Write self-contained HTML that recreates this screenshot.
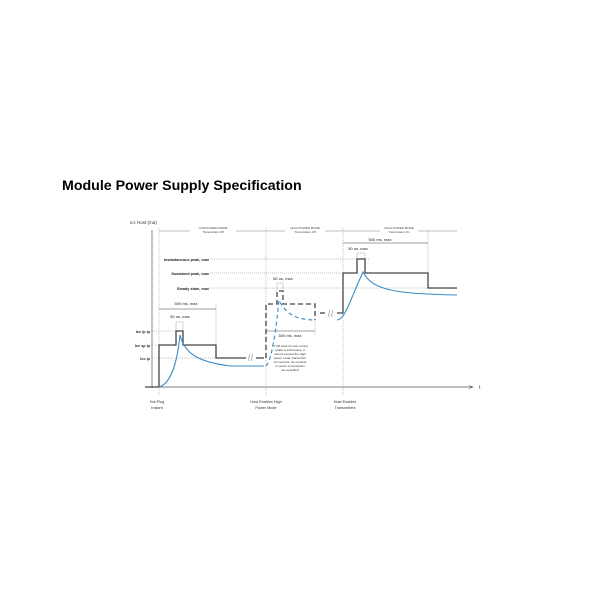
<!DOCTYPE html>
<html><head><meta charset="utf-8"><style>
html,body{margin:0;padding:0;background:#fff;}
svg{display:block;}
text{font-family:"Liberation Sans",sans-serif;}
</style></head><body>
<svg width="600" height="600" viewBox="0 0 600 600" xmlns="http://www.w3.org/2000/svg">
<rect width="600" height="600" fill="#fff"/>
<text x="62" y="190" font-size="14.2" font-weight="bold" fill="#000">Module Power Supply Specification</text>

<text x="130" y="224" font-size="4.5" fill="#333">Icc Host (ma)</text>
<line x1="152" y1="230" x2="152" y2="388" stroke="#555" stroke-width="0.7"/>
<line x1="145" y1="387" x2="472" y2="387" stroke="#555" stroke-width="0.7"/>
<path d="M469,385.5 L473,387 L469,388.5" fill="none" stroke="#555" stroke-width="0.6"/>
<text x="479" y="389" font-size="5" fill="#333">t</text>

<g stroke="#888" stroke-width="0.5" stroke-dasharray="1,1">
<line x1="159" y1="228" x2="159" y2="395"/>
<line x1="266" y1="228" x2="266" y2="395"/>
<line x1="343" y1="228" x2="343" y2="395"/>
<line x1="216" y1="305" x2="216" y2="358"/>
<line x1="315" y1="320" x2="315" y2="335"/>
<line x1="428" y1="231" x2="428" y2="288"/>
<line x1="152" y1="331" x2="176" y2="331"/>
<line x1="152" y1="345" x2="159" y2="345"/>
<line x1="152" y1="358" x2="216" y2="358"/>
<line x1="210" y1="259" x2="370" y2="259"/>
<line x1="210" y1="273" x2="343" y2="273"/>
<line x1="210" y1="288" x2="457" y2="288"/>
</g>

<g stroke="#666" stroke-width="0.4">
<line x1="159" y1="231" x2="190" y2="231"/><line x1="236" y1="231" x2="266" y2="231"/>
<line x1="266" y1="231" x2="285" y2="231"/><line x1="325" y1="231" x2="343" y2="231"/>
<line x1="343" y1="231" x2="380" y2="231"/><line x1="418" y1="231" x2="457" y2="231"/>
</g>
<g font-size="3" fill="#444" text-anchor="middle">
<text x="213" y="229">LOW POWER MODE</text><text x="213" y="233">Transmitters Off</text>
<text x="305" y="229">HIGH POWER MODE</text><text x="305" y="233">Transmitters Off</text>
<text x="399" y="229">HIGH POWER MODE</text><text x="399" y="233">Transmitters On</text>
</g>

<g stroke="#444" stroke-width="0.5">
<line x1="159" y1="309" x2="216" y2="309"/>
<line x1="266" y1="331" x2="315" y2="331"/>
<line x1="343" y1="243" x2="428" y2="243"/>
</g>
<g stroke="#444" stroke-width="0.4" stroke-dasharray="1,0.8" fill="none">
<path d="M176,331 V322 H183 V331"/>
<path d="M277,291 V283 H283 V291"/>
<path d="M357,259 V253 H365 V259"/>
</g>
<g font-size="4" fill="#222" text-anchor="middle">
<text x="186" y="305">500 ms, max</text>
<text x="180" y="318">50 us, max</text>
<text x="290" y="337">500 ms, max</text>
<text x="283" y="280">50 us, max</text>
<text x="380" y="241">500 ms, max</text>
<text x="358" y="250">50 us, max</text>
</g>
<g font-size="3.8" font-weight="bold" fill="#222" text-anchor="end">
<text x="150" y="333">Icc lp lp</text>
<text x="150" y="347">Icc sp lp</text>
<text x="150" y="360">Icc lp</text>
<text x="209" y="261">Instantaneous peak, max</text>
<text x="209" y="275">Sustained peak, max</text>
<text x="209" y="290">Steady state, max</text>
</g>

<g fill="none" stroke="#444" stroke-width="1.3">
<path d="M145,387 H159 V345 H176 V331 H183 V345 H216 V358 H246"/>
<path d="M256,358 H264"/>
<path d="M337,313 H343 V273 H357 V259 H365 V273 H428 V288 H457"/>
</g>
<g fill="none" stroke="#444" stroke-width="1.3" stroke-dasharray="5,3">
<path d="M266,358 V304 H277 V291 H283 V304 H315 V320"/>
<path d="M320,313 H326"/>
</g>
<g fill="none" stroke="#666" stroke-width="0.5">
<path d="M249,361 q-1,-3 1,-7"/><path d="M252,361 q-1,-3 1,-7"/>
<path d="M329,317 q-1,-3 1,-7"/><path d="M332,317 q-1,-3 1,-7"/>
</g>

<g fill="none" stroke="#3a8cc4" stroke-width="1.1">
<path d="M159,387 C170,384 177,365 180,335 C185,355 200,362 230,366 H264"/>
<path d="M337,320 C345,320 350,300 363,272 C372,290 395,294 457,295"/>
</g>
<path d="M266,366 C272,360 276,330 279,300 C286,315 298,320 315,320" fill="none" stroke="#3a8cc4" stroke-width="1.1" stroke-dasharray="4,3"/>

<g font-size="3" fill="#333" text-anchor="middle">
<text x="290" y="347">Tx Off state Icc sub current</text>
<text x="290" y="351">graph is informative, it</text>
<text x="290" y="355">cannot exceed the High</text>
<text x="290" y="359">power mode Transmitter</text>
<text x="290" y="363">On currents. No currents</text>
<text x="290" y="367">or power consumption</text>
<text x="290" y="371">are specified</text>
</g>

<g font-size="3.8" fill="#333" text-anchor="middle">
<text x="157" y="403">Hot Plug</text><text x="157" y="409">Instant</text>
<text x="266" y="403">Host Enables High</text><text x="266" y="409">Power Mode</text>
<text x="345" y="403">Host Enables</text><text x="345" y="409">Transmitters</text>
</g>
</svg>
</body></html>
